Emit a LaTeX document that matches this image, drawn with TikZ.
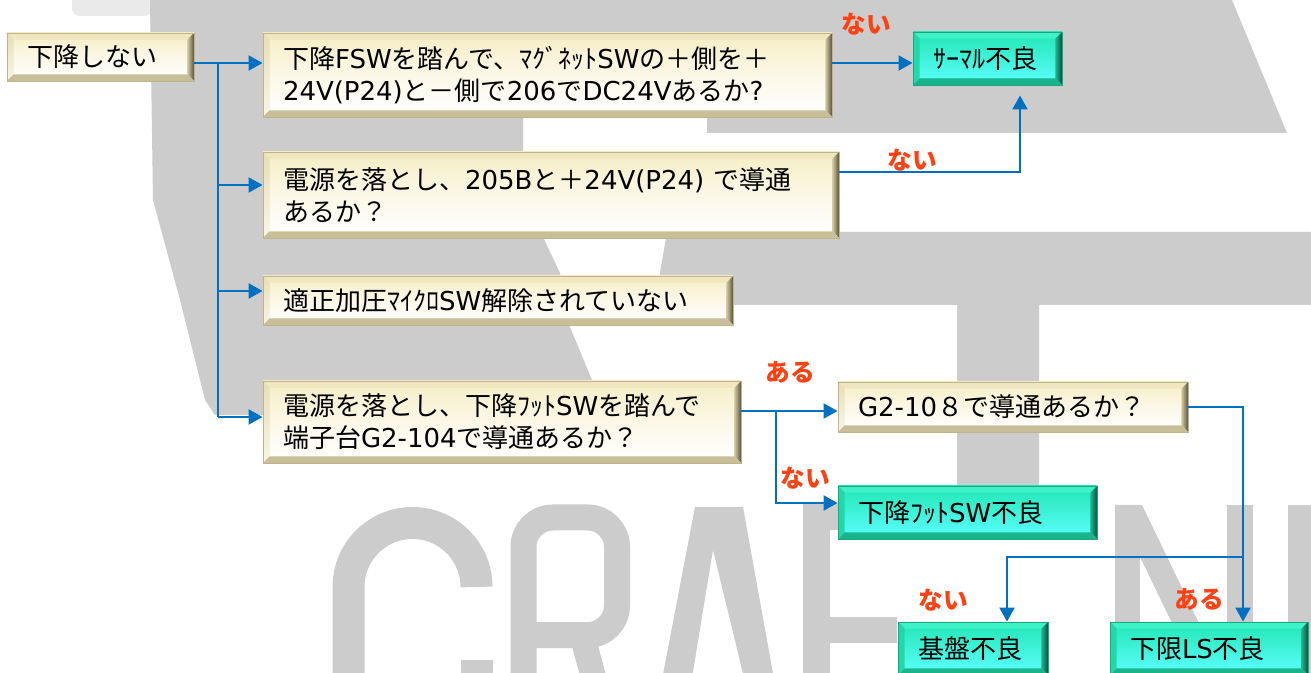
\documentclass[tikz,border=0pt]{standalone}
\usepackage{fontspec}
\newfontfamily\jp{Noto Sans CJK JP}
\newfontfamily\latf{DejaVu Sans}
\newcommand\la[1]{{\latf #1}}
\usetikzlibrary{calc,arrows.meta}
\definecolor{wm}{RGB}{204,204,204}
\definecolor{wmlight}{RGB}{234,234,234}
\definecolor{conn}{RGB}{0,112,192}
\definecolor{lab}{RGB}{255,64,16}
\definecolor{bgface}{RGB}{246,237,196}
\definecolor{bgtop}{RGB}{240,231,192}
\definecolor{bgleft}{RGB}{232,222,180}
\definecolor{bgrightin}{RGB}{212,202,160}
\definecolor{bgrightout}{RGB}{88,82,64}
\definecolor{bgbot}{RGB}{200,190,152}
\definecolor{bgline}{RGB}{190,180,140}
\definecolor{tlface}{RGB}{34,230,180}
\definecolor{tlfaceb}{RGB}{92,255,255}
\definecolor{tltop}{RGB}{60,242,198}
\definecolor{tlleft}{RGB}{34,216,168}
\definecolor{tlrightin}{RGB}{27,184,143}
\definecolor{tlrightout}{RGB}{14,78,62}
\definecolor{tlbot}{RGB}{26,180,140}
\definecolor{tlline}{RGB}{23,168,130}
\def\bw{5pt}
\tikzset{
  bbox/.style={inner xsep=15pt, inner ysep=0pt, align=left, text=black,
    font=\jp\fontsize{19.5}{24}\selectfont},
  beige/.style={bbox, fill=bgface, draw=bgline, line width=0.6pt,
    path picture={
      \coordinate (pA) at (path picture bounding box.north west);
      \coordinate (pB) at (path picture bounding box.north east);
      \coordinate (pC) at (path picture bounding box.south east);
      \coordinate (pD) at (path picture bounding box.south west);
      \fill[top color=bgface, bottom color=white, middle color=white!60!bgface] (pA) rectangle (pC);
      \fill[bgtop] (pA) -- (pB) -- ($(pB)+(-\bw,-\bw)$) -- ($(pA)+(\bw,-\bw)$) -- cycle;
      \fill[top color=bgleft, bottom color=white!70!bgleft] (pA) -- ($(pA)+(\bw,-\bw)$) -- ($(pD)+(\bw,\bw)$) -- (pD) -- cycle;
      \fill[left color=bgrightin, right color=bgrightout] (pB) -- (pC) -- ($(pC)+(-\bw,\bw)$) -- ($(pB)+(-\bw,-\bw)$) -- cycle;
      \fill[bgbot] (pD) -- ($(pD)+(\bw,\bw)$) -- ($(pC)+(-\bw,\bw)$) -- (pC) -- cycle;
    }},
  teal/.style={bbox, fill=tlface, draw=tlline, line width=0.6pt,
    path picture={
      \coordinate (pA) at (path picture bounding box.north west);
      \coordinate (pB) at (path picture bounding box.north east);
      \coordinate (pC) at (path picture bounding box.south east);
      \coordinate (pD) at (path picture bounding box.south west);
      \fill[top color=tlface, bottom color=tlfaceb] (pA) rectangle (pC);
      \fill[tltop] (pA) -- (pB) -- ($(pB)+(-\bw,-\bw)$) -- ($(pA)+(\bw,-\bw)$) -- cycle;
      \fill[tlleft] (pA) -- ($(pA)+(\bw,-\bw)$) -- ($(pD)+(\bw,\bw)$) -- (pD) -- cycle;
      \fill[left color=tlrightin, right color=tlrightout] (pB) -- (pC) -- ($(pC)+(-\bw,\bw)$) -- ($(pB)+(-\bw,-\bw)$) -- cycle;
      \fill[tlbot] (pD) -- ($(pD)+(\bw,\bw)$) -- ($(pC)+(-\bw,\bw)$) -- (pC) -- cycle;
    }},
  wire/.style={draw=conn, line width=2.2pt},
  arr/.style={wire, -{Triangle[length=10.5pt,width=11pt]}},
  labl/.style={text=lab, font=\jp\bfseries\fontsize{18.5}{21}\selectfont, inner sep=0pt},
}
\begin{document}
\begin{tikzpicture}[x=0.75pt,y=-0.75pt]
\useasboundingbox (0,0) rectangle (1311,673);
\clip (0,0) rectangle (1311,673);
\fill[white] (0,0) rectangle (1311,673);
% watermark
\fill[wmlight, rounded corners=6pt] (72,-10) rectangle (152,16);
\fill[wm] (150,0) -- (1232,0) -- (1287,133) -- (707,133) -- (707,117) -- (523,117) -- (523,150) -- (543,237) -- (560,273) -- (570,327) -- (592,380) -- (600,415) -- (215,415) -- (205,400) -- (180,300) -- (153,200) -- cycle;
\fill[wm] (667,232) -- (1311,232) -- (1311,305) -- (1039,305) -- (1039,515) -- (957,515) -- (957,305) -- (655,305) -- (660,273) -- cycle;
\draw[wm, line width=24pt] (476.5,587) arc[start angle=0, end angle=180, radius=48pt] -- (348.5,690);
\draw[wm, line width=24pt] (476.5,660) -- (476.5,690);
\draw[wm, line width=19.5pt, rounded corners=22pt] (523.5,690) -- (523.5,517.5) -- (617,517.5) -- (617,635) -- (523.5,635);
\draw[wm, line width=19pt] (582,635) -- (597,690);
\fill[wm] (695,507) -- (743,507) -- (776,690) -- (747,690) -- (713,550) -- (690,690) -- (660,690) -- cycle;
\fill[wm] (803,503) rectangle (830,690);
\fill[wm] (803,503) rectangle (930,530);
\fill[wm] (830,617) rectangle (897,643);
\fill[wm] (1115,505) rectangle (1140,690);
\fill[wm] (1227,505) rectangle (1253,690);
\fill[wm] (1115,505) -- (1142,505) -- (1253,735) -- (1226,735) -- cycle;
\fill[wm] (1288,505) rectangle (1320,690);
% junction coordinates
\coordinate (t0) at (218,63);
\coordinate (t1) at (218,185);
\coordinate (t2) at (218,291);
\coordinate (t3) at (218,417);
\coordinate (c2) at (1020,172);
\coordinate (c4) at (776,411);
\coordinate (c5) at (776,503);
\coordinate (c6) at (1243,407);
\coordinate (c7) at (1243,557);
\coordinate (c8) at (1007,557);
% boxes
\node[beige, text width=110.25pt, minimum height=36pt] (start) at (100.5,57) {\mbox{下降しない}};
\node[beige, text width=396.75pt, minimum height=63pt] (q1) at (547.5,75) {\mbox{下降\la{FSW}を踏んで、ﾏｸﾞﾈｯﾄ\la{SW}の＋側を＋}\\\mbox{\la{24V(P24)}と－側で\la{206}で\la{DC24V}あるか\la{?}}};
\node[beige, text width=402pt, minimum height=64.5pt] (q2) at (551,195) {\mbox{電源を落とし、\la{205B}と＋\la{24V(P24) }で導通}\\\mbox{あるか？}};
\node[beige, text width=322.5pt, minimum height=36.75pt] (q3) at (498,300.5) {\mbox{適正加圧ﾏｲｸﾛ\la{SW}解除されていない}};
\node[beige, text width=328.5pt, minimum height=61.5pt] (q4) at (502,422) {\mbox{電源を落とし、下降ﾌｯﾄ\la{SW}を踏んで}\\\mbox{端子台\la{G2-104}で導通あるか？}};
\node[teal, text width=81.75pt, minimum height=39.75pt] (therm) at (987.5,58.5) {\mbox{ｻｰﾏﾙ不良}};
\node[beige, text width=232.5pt, minimum height=37.5pt] (q5) at (1013,407) {\mbox{\la{G2-10}８で導通あるか？}};
\node[teal, text width=164.25pt, minimum height=39.75pt] (foot) at (967.5,512.5) {\mbox{下降ﾌｯﾄ\la{SW}不良}};
\node[teal, text width=82.5pt, minimum height=39.75pt] (board) at (973,648.5) {\mbox{基盤不良}};
\node[teal, text width=118.5pt, minimum height=39.75pt] (lower) at (1209,648.5) {\mbox{下限\la{LS}不良}};
% connectors
\draw[arr] (start.east |- t0) -- (q1.west |- t0);
\draw[wire] (t0) -- (t3);
\draw[arr] (t1) -- (q2.west |- t1);
\draw[arr] (t2) -- (q3.west |- t2);
\draw[arr] (t3) -- (q4.west |- t3);
\draw[arr] (q1.east |- t0) -- (therm.west |- t0);
\draw[arr] (q2.east |- c2) -- (c2) -- ($(therm.south -| c2)+(0,10)$);
\draw[arr] (q4.east |- c4) -- (q5.west |- c4);
\draw[arr] (c4) -- (c5) -- (foot.west |- c5);
\draw[arr] (q5.east |- c6) -- (c6) -- (lower.north -| c6);
\draw[arr] (c7) -- (c8) -- (board.north -| c8);
% labels
\node[labl] (n1) at (866,24) {ない};
\node[labl] (n2) at (912,160) {ない};
\node[labl] (a1) at (790,372) {ある};
\node[labl] (n3) at (805,478) {ない};
\node[labl] (n4) at (943,600) {ない};
\node[labl] (a2) at (1199,599) {ある};
\end{tikzpicture}
\end{document}
